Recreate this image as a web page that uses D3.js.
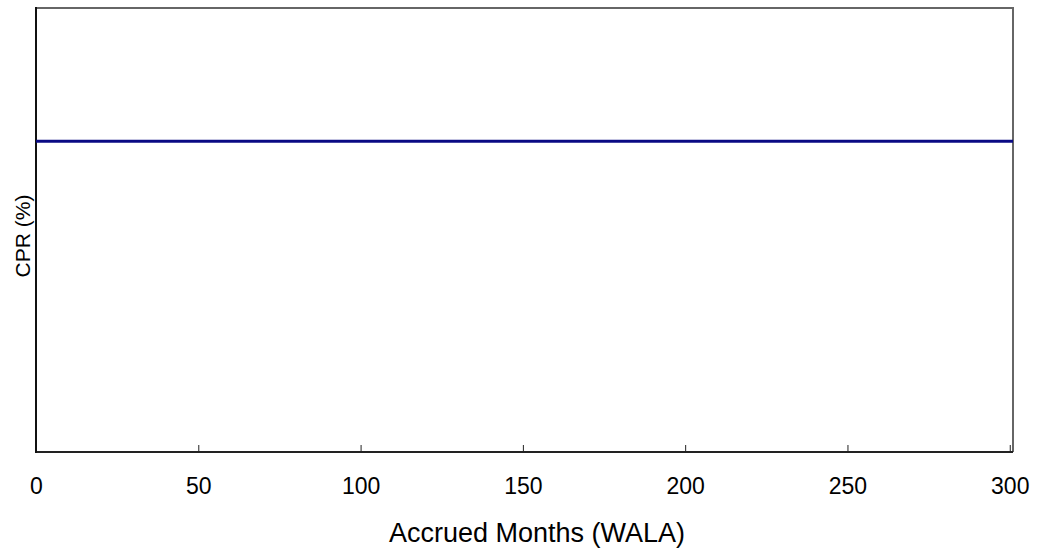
<!DOCTYPE html>
<html>
<head>
<meta charset="utf-8">
<script src="https://cdn.jsdelivr.net/npm/d3@7"></script>
<style>
  html, body { margin: 0; padding: 0; background: #fff; }
  svg { display: block; font-family: "Liberation Sans", Arial, sans-serif; }
</style>
</head>
<body>
<svg id="chart" width="1037" height="550"></svg>
<script>
// Data
const wala = [0, 50, 100, 150, 200, 250, 301];
const cpr  = [7, 7, 7, 7, 7, 7, 7];
const xTicks = [0, 50, 100, 150, 200, 250, 300];
const xTitle = "Accrued Months (WALA)";
const yTitle = "CPR (%)";

(function () {
const svg = d3.select("#chart");
const pL = 36, pR = 1013, pT = 8, pB = 452;

const x = d3.scaleLinear().domain([0, 301]).range([pL, pR]);
const y = d3.scaleLinear().domain([0, 10]).range([pB, pT]);

// top and right border (gray)
svg.append("line").attr("x1", pL).attr("x2", pR).attr("y1", pT).attr("y2", pT)
  .attr("stroke", "#666").attr("stroke-width", 2);
svg.append("line").attr("x1", pR).attr("x2", pR).attr("y1", pT - 1).attr("y2", pB)
  .attr("stroke", "#666").attr("stroke-width", 2);

// x axis
const xAxis = d3.axisBottom(x).tickValues(xTicks).tickSize(0).tickPadding(0).tickFormat(d3.format("d"));
const gx = svg.append("g").attr("transform", `translate(0,${pB})`).call(xAxis);
gx.select(".domain").remove();
gx.selectAll(".tick text").attr("y", 42).attr("dy", null).attr("font-size", 23)
  .attr("fill", "#000").attr("font-family", "Liberation Sans, Arial, sans-serif");
gx.selectAll(".tick").filter(d => d > 0).append("line")
  .attr("y1", 0).attr("y2", -7).attr("stroke", "#222").attr("stroke-width", 1);

// axis lines
svg.append("line").attr("x1", pL).attr("x2", pR).attr("y1", pB).attr("y2", pB)
  .attr("stroke", "#222").attr("stroke-width", 2);
svg.append("line").attr("x1", pL).attr("x2", pL).attr("y1", pT - 1).attr("y2", pB + 1)
  .attr("stroke", "#111").attr("stroke-width", 2);

// series line
const line = d3.line().x((d, i) => x(wala[i])).y(d => y(d));
svg.append("path").datum(cpr).attr("d", line)
  .attr("fill", "none").attr("stroke", "#0a0a84").attr("stroke-width", 3);

// titles
svg.append("text").attr("x", 537).attr("y", 542)
  .attr("text-anchor", "middle").attr("font-size", 27).attr("fill", "#000").text(xTitle);
svg.append("text").attr("transform", `translate(30,236) rotate(-90)`)
  .attr("text-anchor", "middle").attr("font-size", 21).attr("fill", "#000").text(yTitle);
})();
</script>
</body>
</html>
